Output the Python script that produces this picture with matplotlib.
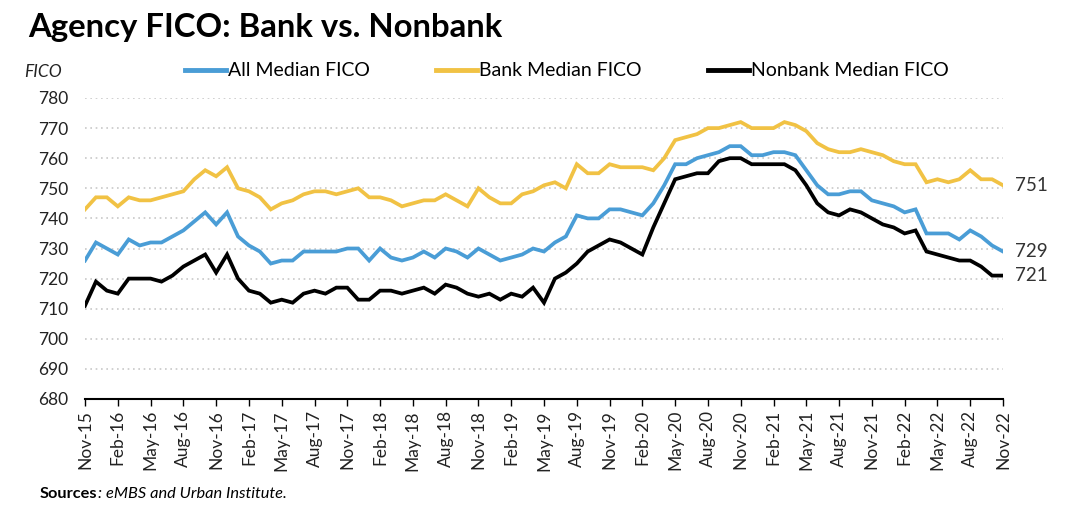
import matplotlib
matplotlib.use("Agg")
import matplotlib.pyplot as plt
from matplotlib.lines import Line2D

plt.rcParams['font.family'] = ['Lato', 'DejaVu Sans']

bank = [743, 747, 747, 744, 747, 746, 746, 747, 748, 749, 753, 756, 754, 757, 750, 749, 747,
        743, 745, 746, 748, 749, 749, 748, 749, 750, 747, 747, 746, 744, 745, 746, 746,
        748, 746, 744, 750, 747, 745, 745, 748, 749, 751, 752, 750, 758, 755, 755, 758,
        757, 757, 757, 756, 760, 766, 767, 768, 770, 770, 771, 772, 770, 770, 770, 772,
        771, 769, 765, 763, 762, 762, 763, 762, 761, 759, 758, 758, 752, 753, 752, 753,
        756, 753, 753, 751]
all_fico = [726, 732, 730, 728, 733, 731, 732, 732, 734, 736, 739, 742, 738, 742, 734, 731, 729,
            725, 726, 726, 729, 729, 729, 729, 730, 730, 726, 730, 727, 726, 727, 729, 727,
            730, 729, 727, 730, 728, 726, 727, 728, 730, 729, 732, 734, 741, 740, 740, 743,
            743, 742, 741, 745, 751, 758, 758, 760, 761, 762, 764, 764, 761, 761, 762, 762,
            761, 756, 751, 748, 748, 749, 749, 746, 745, 744, 742, 743, 735, 735, 735, 733,
            736, 734, 731, 729]
nonbank = [711, 719, 716, 715, 720, 720, 720, 719, 721, 724, 726, 728, 722, 728, 720, 716, 715,
           712, 713, 712, 715, 716, 715, 717, 717, 713, 713, 716, 716, 715, 716, 717, 715,
           718, 717, 715, 714, 715, 713, 715, 714, 717, 712, 720, 722, 725, 729, 731, 733,
           732, 730, 728, 737, 745, 753, 754, 755, 755, 759, 760, 760, 758, 758, 758, 758,
           756, 751, 745, 742, 741, 743, 742, 740, 738, 737, 735, 736, 729, 728, 727, 726,
           726, 724, 721, 721]

tick_labels = ['Nov-15', 'Feb-16', 'May-16', 'Aug-16', 'Nov-16', 'Feb-17', 'May-17', 'Aug-17',
               'Nov-17', 'Feb-18', 'May-18', 'Aug-18', 'Nov-18', 'Feb-19', 'May-19', 'Aug-19',
               'Nov-19', 'Feb-20', 'May-20', 'Aug-20', 'Nov-20', 'Feb-21', 'May-21', 'Aug-21',
               'Nov-21', 'Feb-22', 'May-22', 'Aug-22', 'Nov-22']
y_ticks = [680, 690, 700, 710, 720, 730, 740, 750, 760, 770, 780]

c_all = '#4a9dd6'
c_bank = '#f1c244'
c_non = '#000000'

fig = plt.figure(figsize=(10.84, 5.09), dpi=100)
ax = fig.add_axes([85/1084, 110/509, (1003-85)/1084, (399-98)/509])

x = list(range(len(bank)))
lw = 2.7
ax.plot(x, all_fico, color=c_all, lw=lw, solid_joinstyle='miter', label='All Median FICO')
ax.plot(x, bank, color=c_bank, lw=lw, solid_joinstyle='miter', label='Bank Median FICO')
ax.plot(x, nonbank, color=c_non, lw=lw, solid_joinstyle='miter', label='Nonbank Median FICO')

ax.set_xlim(0, len(bank) - 1)
ax.set_ylim(680, 780)
ax.set_yticks(y_ticks)
ax.set_yticklabels([str(v) for v in y_ticks], fontsize=12.5, color='#222222')
ax.set_xticks(list(range(0, len(bank), 3)))
ax.set_xticklabels(tick_labels, rotation=90, fontsize=12.5, color='#222222')
ax.tick_params(axis='y', length=0, pad=12)
ax.tick_params(axis='x', length=5, width=1, direction='out', pad=3, color='black')

for v in y_ticks[1:]:
    ax.axhline(v, color='#c8c8c8', lw=1.2, ls=(0, (1, 2.2)), zorder=0)

for s in ['top', 'right', 'left']:
    ax.spines[s].set_visible(False)
ax.spines['bottom'].set_color('black')
ax.spines['bottom'].set_linewidth(1.5)

# end labels
for series in (bank, all_fico, nonbank):
    ax.annotate(str(series[-1]), xy=(x[-1], series[-1]), xytext=(8.5, 0),
                textcoords='offset points', va='center', ha='left',
                fontsize=13.5, color='#333333', annotation_clip=False)

fig.text(28/1084, 1 - 28/509, 'Agency FICO: Bank vs. Nonbank', fontsize=23.7,
         fontweight='bold', va='center', ha='left', color='black')
fig.text(24/1084, 1 - 72/509, 'FICO', fontsize=12.5, style='italic', va='center',
         ha='left', color='#222222')

handles = [Line2D([], [], color=c_all, lw=3.5), Line2D([], [], color=c_bank, lw=3.5),
           Line2D([], [], color=c_non, lw=3.5)]
fig.legend(handles, ['All Median FICO', 'Bank Median FICO', 'Nonbank Median FICO'],
           loc='center', bbox_to_anchor=(567/1084, 1 - 71/509), ncol=3, frameon=False,
           fontsize=14, handlelength=2.1, handletextpad=0.12, columnspacing=3.4)

t1 = fig.text(40/1084, 1 - 494/509, 'Sources', fontsize=11.8, fontweight='bold',
              va='center', ha='left', color='black')
ax.annotate(': eMBS and Urban Institute.', xy=(1, 0.5), xycoords=t1, va='center',
            ha='left', fontsize=11.8, style='italic', color='black')

fig.savefig('out.png', dpi=100, facecolor='white')
